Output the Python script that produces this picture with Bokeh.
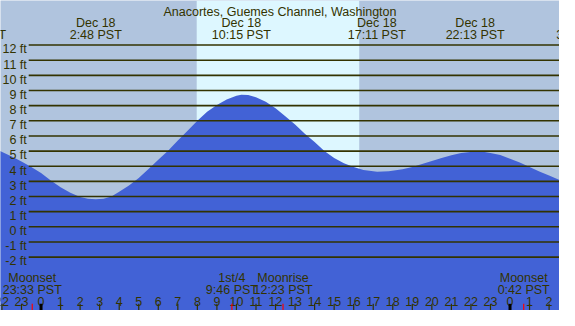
from bokeh.plotting import figure
from bokeh.models import Range1d
from bokeh.embed import file_html
from bokeh.resources import INLINE
from bokeh.core.properties import value

# ---------------- data ----------------
title_text = "Anacortes, Guemes Channel, Washington"

# tide height (ft) vs hour of Dec 18 (PST)
tide_hours = [-2.1, -1.5, -1.0, -0.5, 0.0, 0.5, 1.0, 1.5, 2.0, 2.4, 2.8, 3.2, 3.6,
              4.0, 4.5, 5.0, 5.5, 6.0, 6.5, 7.0, 7.5, 8.0, 8.5, 9.0, 9.5, 10.0,
              10.25, 10.6, 11.0, 11.5, 12.0, 12.5, 13.0, 13.5, 14.0, 14.5, 15.0,
              15.5, 16.0, 16.5, 17.2, 17.8, 18.5, 19.0, 19.5, 20.0, 20.5, 21.0,
              21.5, 22.2, 22.7, 23.0, 23.5, 24.0, 24.5, 25.0, 25.5, 26.0, 26.6]
tide_feet = [5.0, 4.65, 4.32, 3.95, 3.55, 3.05, 2.62, 2.25, 1.97, 1.85, 1.82, 1.86, 2.0,
             2.32, 2.72, 3.22, 3.82, 4.42, 5.02, 5.7, 6.35, 7.0, 7.6, 8.05, 8.4, 8.65,
             8.72, 8.7, 8.55, 8.25, 7.82, 7.3, 6.75, 6.15, 5.6, 5.0, 4.55,
             4.2, 3.95, 3.75, 3.63, 3.67, 3.8, 3.95, 4.15, 4.35, 4.55, 4.73,
             4.87, 4.97, 4.94, 4.88, 4.74, 4.5, 4.25, 3.95, 3.65, 3.38, 3.05]

event_day = [-1, 0, 0, 0, 0, 1]
event_date = ["Dec 17", "Dec 18", "Dec 18", "Dec 18", "Dec 18", "Dec 19"]
event_time = ["20:42", "2:48", "10:15", "17:11", "22:13", "3:42"]

moon_name = ["Moonset", "1st/4", "Moonrise", "Moonset"]
moon_time = ["23:33", "9:46", "12:23", "0:42"]
moon_day = [-1, 0, 0, 1]

sunrise = "7:58"
sunset = "16:17"

y_ticks = list(range(-2, 13))
hour_ticks = list(range(-2, 27))

# ---------------- helpers ----------------
def to_hours(t, day=0):
    h, m = t.split(":")
    return int(h) + int(m) / 60.0 + 24 * day

# reference layout scale (pixels of the original picture)
PX_H = 20.1      # px per hour
X0 = 41.7        # px of midnight
PX_FT = 15.93    # px per foot
Y0 = 238.0       # px of 0 ft
W_REF, H_REF = 575, 326

def fy(py):
    return (Y0 - py) / PX_FT

def fx(px):
    return (px - X0) / PX_H

xmin, xmax = fx(0), fx(W_REF)
ymin, ymax = fy(H_REF), fy(0)

INK = "#333300"
FONT = value("Liberation Sans")
FS = "12.5px"

p = figure(width=559, height=310, output_backend="svg", toolbar_location=None,
           x_range=Range1d(xmin, xmax), y_range=Range1d(ymin, ymax),
           min_border=0, background_fill_color="#b0c4de", border_fill_color="#b0c4de")
p.xaxis.visible = False
p.yaxis.visible = False
p.grid.visible = False
p.outline_line_color = None

# daylight band
p.quad(left=[to_hours(sunrise)], right=[to_hours(sunset)], bottom=[ymin], top=[ymax],
       fill_color="#ddf7ff", line_color=None)

# tide fill
p.varea(x=tide_hours, y1=[ymin] * len(tide_hours), y2=tide_feet, fill_color="#4262d6")

# horizontal grid lines
gx0 = fx(29)
p.segment(x0=[gx0] * len(y_ticks), x1=[xmax + 1] * len(y_ticks), y0=y_ticks, y1=y_ticks,
          line_color=INK, line_width=1.6)

# y labels
p.text(x=[fx(27)] * len(y_ticks), y=[v - 4.6 / PX_FT for v in y_ticks],
       text=[f"{v} ft" for v in y_ticks], text_font=FONT, text_font_size=FS,
       text_color=INK, text_align="right", text_baseline="alphabetic")

# title
p.text(x=[fx(287.5)], y=[fy(11.7)], text=[title_text], text_font=FONT, text_font_size=FS,
       text_color=INK, text_align="center", text_baseline="alphabetic")

# tide event labels
ev_x = [to_hours(t, d) for t, d in zip(event_time, event_day)]
p.text(x=ev_x, y=[fy(24)] * len(ev_x), text=event_date, text_font=FONT, text_font_size=FS,
       text_color=INK, text_align="center", text_baseline="alphabetic")
p.text(x=ev_x, y=[fy(36)] * len(ev_x), text=[t + " PST" for t in event_time],
       text_font=FONT, text_font_size=FS, text_color=INK, text_align="center",
       text_baseline="alphabetic")

# moon events
mx = [to_hours(t, d) for t, d in zip(moon_time, moon_day)]
p.text(x=mx, y=[fy(292)] * len(mx), text=moon_name, text_font=FONT, text_font_size=FS,
       text_color=INK, text_align="center", text_baseline="alphabetic")
p.text(x=mx, y=[fy(304.5)] * len(mx), text=[t + " PST" for t in moon_time],
       text_font=FONT, text_font_size=FS, text_color=INK, text_align="center",
       text_baseline="alphabetic")

# hour labels and ticks
p.text(x=hour_ticks, y=[fy(317)] * len(hour_ticks), text=[str(h % 24) for h in hour_ticks],
       text_font=FONT, text_font_size=FS, text_color=INK, text_align="center",
       text_baseline="alphabetic")
thin = [h for h in hour_ticks if h % 24 != 0]
thick = [h for h in hour_ticks if h % 24 == 0]
p.segment(x0=thin, x1=thin, y0=[fy(319)] * len(thin), y1=[ymin] * len(thin),
          line_color=INK, line_width=1.2)
p.segment(x0=thick, x1=thick, y0=[fy(319)] * len(thick), y1=[ymin] * len(thick),
          line_color="black", line_width=3)
p.segment(x0=mx, x1=mx, y0=[fy(319)] * len(mx), y1=[ymin] * len(mx),
          line_color="#ff0000", line_width=1.2)

open("out.html", "w").write(file_html(p, INLINE))
